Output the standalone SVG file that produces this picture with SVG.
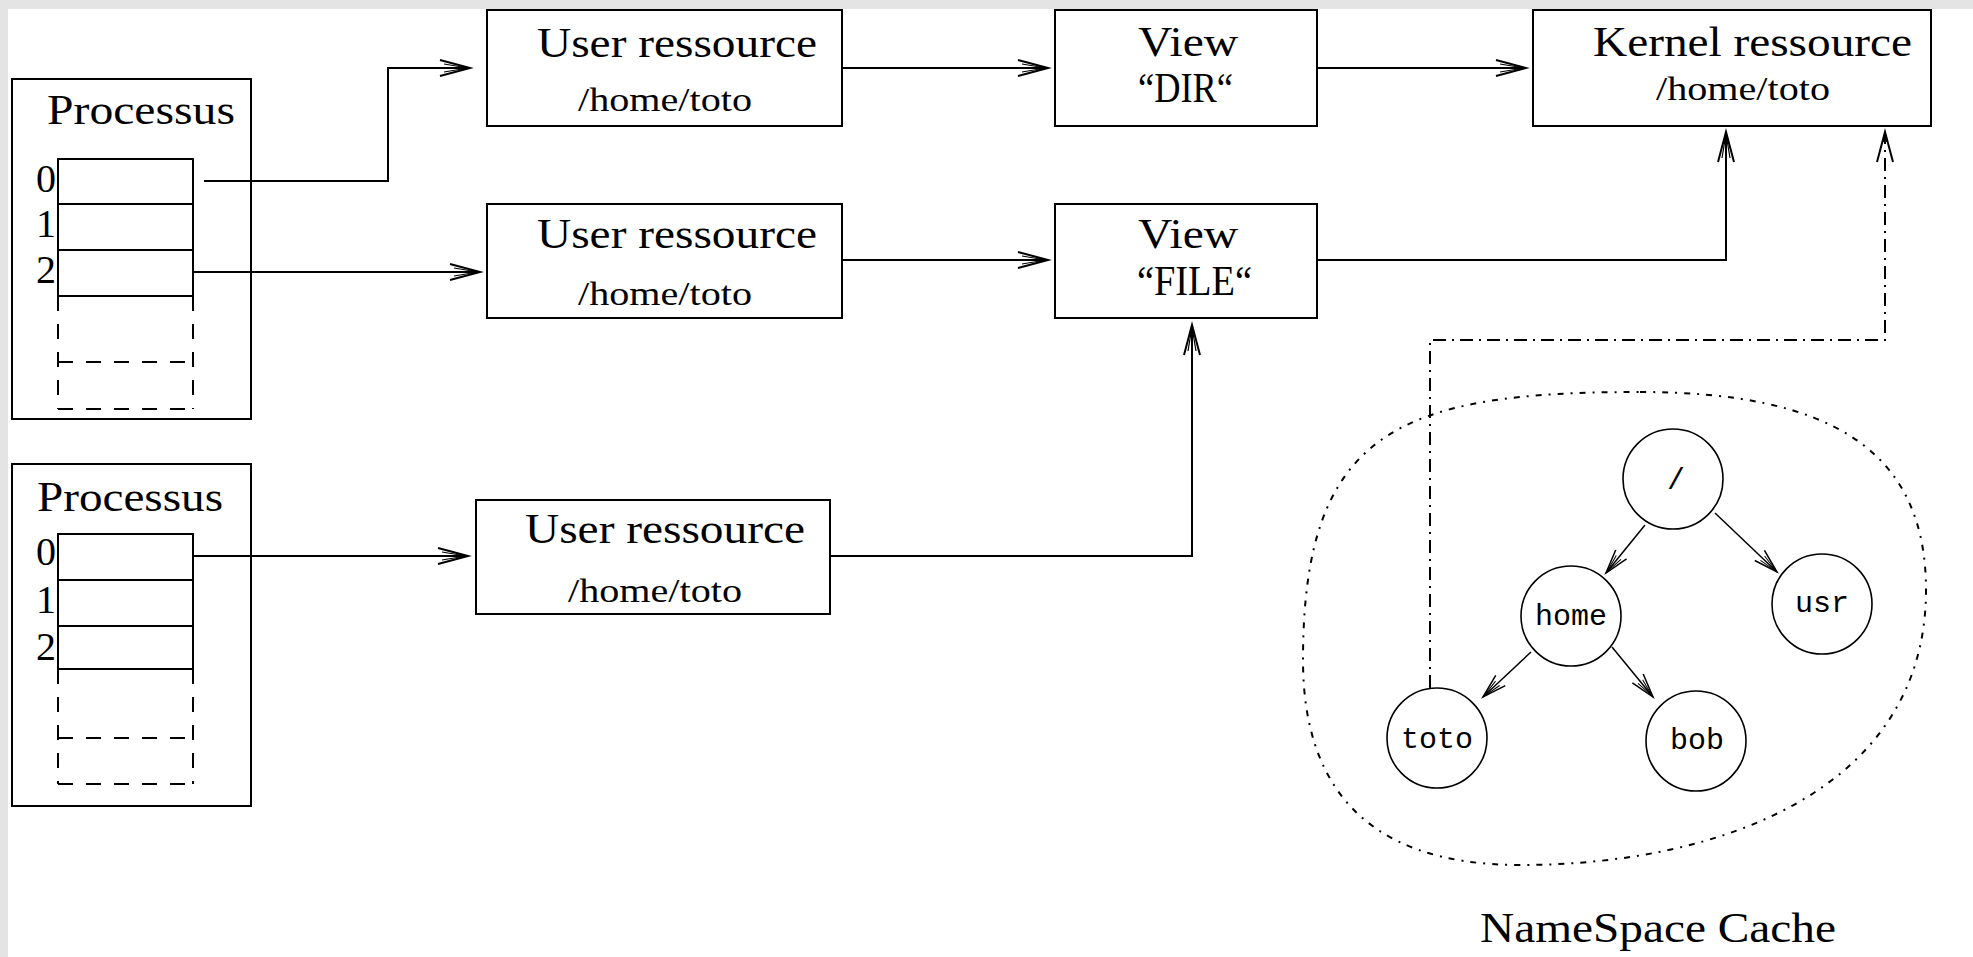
<svg xmlns="http://www.w3.org/2000/svg" width="1973" height="957" viewBox="0 0 1973 957">
<style>
.box{fill:#fff;stroke:#000;stroke-width:2}
.ln{fill:none;stroke:#000;stroke-width:2}
.dsh{fill:none;stroke:#000;stroke-width:2;stroke-dasharray:15 13}
.con{fill:none;stroke:#000;stroke-width:2;marker-end:url(#arr)}
.dd{fill:none;stroke:#000;stroke-width:2;stroke-dasharray:13 6 2 6}
.tarr{fill:none;stroke:#000;stroke-width:1.5;marker-end:url(#tarr)}
.circ{fill:#fff;stroke:#000;stroke-width:1.6}
.big{font-family:"Liberation Serif","Times New Roman",serif;font-size:42px;fill:#000}
.sml{font-family:"Liberation Serif","Times New Roman",serif;font-size:34px;fill:#000}
.idx{font-family:"Liberation Serif","Times New Roman",serif;font-size:40px;fill:#000;text-anchor:end}
.mono{font-family:"Liberation Mono","Courier New",monospace;font-size:30px;fill:#000;text-anchor:middle}
</style>
<defs>
<marker id="arr" markerUnits="userSpaceOnUse" markerWidth="40" markerHeight="24" viewBox="-34 -12 40 24" refX="0" refY="0" orient="auto">
<path d="M-30,-8 L0,0 L-30,8" fill="none" stroke="#000" stroke-width="2"/>
<path d="M-26,-4 L-2,0 L-26,4" fill="none" stroke="#000" stroke-width="1.2"/>
<path d="M-9,-3 L0,0 L-9,3 z" fill="#000"/>
</marker>
<marker id="tarr" markerUnits="userSpaceOnUse" markerWidth="32" markerHeight="20" viewBox="-28 -10 32 20" refX="0" refY="0" orient="auto">
<path d="M-24,-7 L0,0 L-24,7" fill="none" stroke="#000" stroke-width="1.5"/>
<path d="M-20,-3 L-1,0 L-20,3" fill="none" stroke="#000" stroke-width="1"/>
</marker>
</defs>
<rect x="0" y="0" width="1973" height="957" fill="#fff"/>
<rect x="0" y="0" width="1973" height="9" fill="#e4e4e4"/>
<rect x="0" y="0" width="8" height="957" fill="#e4e4e4"/>

<g id="processus1">
<rect class="box" x="12" y="79" width="239" height="340"/>
<text class="big" x="47" y="124" textLength="188" lengthAdjust="spacingAndGlyphs">Processus</text>
<path class="ln" d="M58,296 V159 H193 V296 M58,204 H193 M58,250 H193 M58,296 H193"/>
<path class="dsh" d="M58,296 V409 M193,296 V409 M58,362 H193 M58,409 H193"/>
<text class="idx" x="56" y="192">0</text>
<text class="idx" x="56" y="237">1</text>
<text class="idx" x="56" y="283">2</text>
</g>

<g id="processus2">
<rect class="box" x="12" y="464" width="239" height="342"/>
<text class="big" x="37" y="511" textLength="186" lengthAdjust="spacingAndGlyphs">Processus</text>
<path class="ln" d="M58,669 V534 H193 V669 M58,580 H193 M58,626 H193 M58,669 H193"/>
<path class="dsh" d="M58,669 V784 M193,669 V784 M58,738 H193 M58,784 H193"/>
<text class="idx" x="56" y="565">0</text>
<text class="idx" x="56" y="613">1</text>
<text class="idx" x="56" y="660">2</text>
</g>

<g id="user1">
<rect class="box" x="487" y="10" width="355" height="116"/>
<text class="big" x="537" y="57" textLength="280" lengthAdjust="spacingAndGlyphs">User ressource</text>
<text class="sml" x="578" y="111" textLength="174" lengthAdjust="spacingAndGlyphs">/home/toto</text>
</g>

<g id="user2">
<rect class="box" x="487" y="204" width="355" height="114"/>
<text class="big" x="537" y="248" textLength="280" lengthAdjust="spacingAndGlyphs">User ressource</text>
<text class="sml" x="578" y="305" textLength="174" lengthAdjust="spacingAndGlyphs">/home/toto</text>
</g>

<g id="user3">
<rect class="box" x="476" y="500" width="354" height="114"/>
<text class="big" x="525" y="543" textLength="280" lengthAdjust="spacingAndGlyphs">User ressource</text>
<text class="sml" x="568" y="602" textLength="174" lengthAdjust="spacingAndGlyphs">/home/toto</text>
</g>

<g id="viewdir">
<rect class="box" x="1055" y="10" width="262" height="116"/>
<text class="big" x="1138" y="56" textLength="100" lengthAdjust="spacingAndGlyphs">View</text>
<text class="big" x="1138" y="102" textLength="95" lengthAdjust="spacingAndGlyphs">“DIR“</text>
</g>

<g id="viewfile">
<rect class="box" x="1055" y="204" width="262" height="114"/>
<text class="big" x="1138" y="248" textLength="100" lengthAdjust="spacingAndGlyphs">View</text>
<text class="big" x="1137" y="295" textLength="115" lengthAdjust="spacingAndGlyphs">“FILE“</text>
</g>

<g id="kernel">
<rect class="box" x="1533" y="10" width="398" height="116"/>
<text class="big" x="1593" y="56" textLength="319" lengthAdjust="spacingAndGlyphs">Kernel ressource</text>
<text class="sml" x="1656" y="100" textLength="174" lengthAdjust="spacingAndGlyphs">/home/toto</text>
</g>

<g id="namespace-cache">
<path d="M1640,392 C1830,392 1926,450 1926,590 C1926,790 1720,865 1520,865 C1360,865 1303,780 1303,660 C1303,430 1400,392 1640,392 Z" fill="none" stroke="#000" stroke-width="2" stroke-dasharray="6 7 2 7"/>
<text class="big" x="1480" y="942" font-size="46" textLength="356" lengthAdjust="spacingAndGlyphs">NameSpace Cache</text>
</g>

<g id="connectors">
<path class="con" d="M204,181 H388 V68 H470"/>
<path class="con" d="M193,272 H480"/>
<path class="con" d="M193,556 H468"/>
<path class="con" d="M842,68 H1048"/>
<path class="con" d="M842,260 H1048"/>
<path class="con" d="M830,556 H1192 V325"/>
<path class="con" d="M1317,68 H1526"/>
<path class="con" d="M1317,260 H1726 V132"/>
<path class="dd" d="M1430,688 V340 H1885 V136"/>
<path d="M1877,162 L1885,132 L1893,162" fill="none" stroke="#000" stroke-width="2"/>
<path d="M1882,142 L1885,132 L1888,142 z" fill="#000"/>
<path class="tarr" d="M1645,525 L1606,573"/>
<path class="tarr" d="M1715,513 L1777,572"/>
<path class="tarr" d="M1531,652 L1483,697"/>
<path class="tarr" d="M1612,647 L1653,697"/>
</g>

<g id="node-root">
<circle class="circ" cx="1673" cy="479" r="50"/>
<text class="mono" x="1676" y="489">/</text>
</g>
<g id="node-home">
<circle class="circ" cx="1571" cy="616" r="50"/>
<text class="mono" x="1571" y="625">home</text>
</g>
<g id="node-usr">
<circle class="circ" cx="1822" cy="604" r="50"/>
<text class="mono" x="1822" y="612">usr</text>
</g>
<g id="node-toto">
<circle class="circ" cx="1437" cy="738" r="50"/>
<text class="mono" x="1437" y="748">toto</text>
</g>
<g id="node-bob">
<circle class="circ" cx="1696" cy="741" r="50"/>
<text class="mono" x="1697" y="749">bob</text>
</g>
</svg>
